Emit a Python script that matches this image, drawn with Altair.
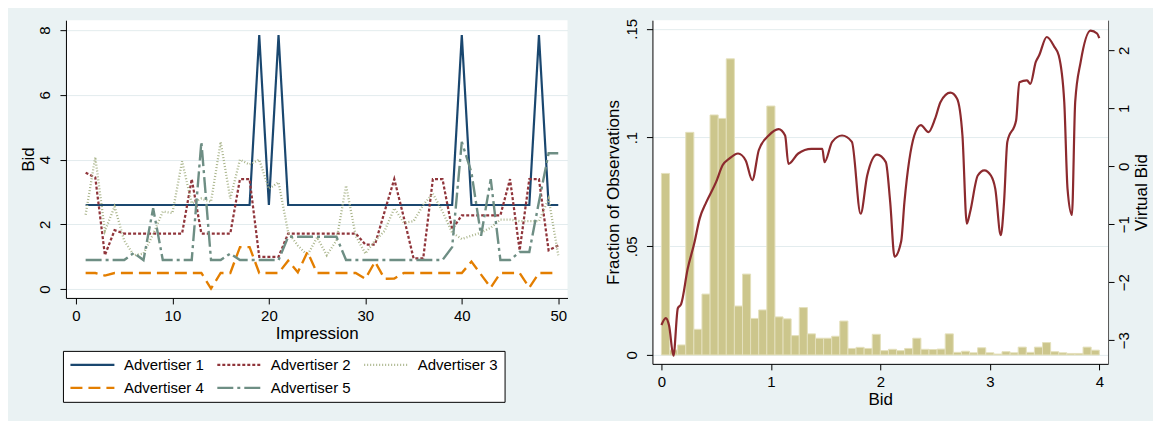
import altair as alt
import pandas as pd

FONT = "Liberation Sans"

# ---------------- Left panel: bids by impression ----------------
impression = list(range(1, 51))
series_names = ["Advertiser 1", "Advertiser 2", "Advertiser 3", "Advertiser 4", "Advertiser 5"]

adv1 = ([2.6] * 18 + [7.85, 2.6, 7.85] + [2.6] * 18 + [7.85] + [2.6] * 7 + [7.85] + [2.6, 2.6])
adv2 = [3.6, 3.45, 1.05, 1.82, 1.72, 1.72, 1.72, 1.72, 1.72, 1.72,
        1.72, 3.4, 1.72, 1.72, 1.72, 1.72, 3.4, 3.4, 1.0, 1.0,
        1.0, 1.72, 1.72, 1.72, 1.72, 1.72, 1.72, 1.72, 1.72, 1.38,
        1.38, 2.4, 3.4, 2.2, 0.95, 0.95, 3.4, 3.4, 1.85, 2.28,
        2.28, 2.28, 2.28, 2.28, 3.4, 1.2, 3.4, 3.4, 1.2, 1.35]
adv3 = [2.3, 4.08, 1.8, 2.55, 1.5, 1.05, 1.1, 1.7, 2.4, 2.35,
        3.95, 2.65, 2.8, 2.7, 4.55, 2.8, 4.0, 3.85, 4.0, 3.1,
        3.3, 1.75, 1.35, 1.05, 1.6, 1.05, 1.5, 3.2, 1.65, 1.1,
        1.5, 1.8, 2.5, 2.05, 2.1, 2.6, 2.95, 2.4, 1.75, 1.55,
        1.65, 1.75, 1.9, 2.15, 2.15, 2.1, 2.1, 2.1, 2.8, 1.05]
adv4 = [0.5, 0.5, 0.42, 0.5, 0.5, 0.5, 0.5, 0.5, 0.5, 0.5,
        0.5, 0.5, 0.5, 0.02, 0.5, 0.5, 1.3, 1.3, 0.5, 0.5,
        0.5, 0.88, 0.52, 1.15, 0.5, 0.5, 0.5, 0.5, 0.5, 0.32,
        0.85, 0.32, 0.33, 0.5, 0.5, 0.5, 0.5, 0.5, 0.5, 0.5,
        0.85, 0.45, 0.05, 0.5, 0.5, 0.5, 0.05, 0.5, 0.5, 0.5]
adv5 = [0.9, 0.9, 0.9, 0.9, 0.9, 1.12, 0.9, 2.5, 0.9, 0.9,
        0.9, 0.9, 4.55, 0.9, 0.9, 1.1, 0.9, 0.9, 0.9, 0.9,
        0.9, 1.62, 1.62, 1.62, 1.62, 1.62, 1.62, 0.9, 0.9, 0.9,
        0.9, 0.9, 0.9, 0.9, 0.9, 0.9, 0.9, 0.9, 1.3, 4.55,
        3.6, 1.65, 3.4, 0.9, 0.9, 1.15, 1.15, 2.7, 4.2, 4.2]

series_colors = ["#1A476F", "#90353B", "#A9B48A", "#E37E00", "#6E8E84"]
series_dashes = [[1, 0], [3, 2], [1, 2], [12, 6], [16, 4, 3, 4]]
series_widths = [2.2, 2.4, 1.3, 2.0, 2.0]

rows = []
for name, vals in zip(series_names, [adv1, adv2, adv3, adv4, adv5]):
    for x, v in zip(impression, vals):
        rows.append({"Impression": x, "Bid": v, "series": name})
df_left = pd.DataFrame(rows)

legend_spec = alt.Legend(
    title=None, orient="none", legendX=-3, legendY=331, direction="horizontal",
    columns=3, symbolType="stroke", symbolSize=1936, symbolStrokeWidth=2,
    labelFont=FONT, labelFontSize=15, labelColor="black", labelOffset=8,
    columnPadding=11, rowPadding=7, padding=6, strokeColor="black",
    fillColor="white", clipHeight=16, symbolLimit=0,
)

left = alt.Chart(df_left).mark_line(clip=True).encode(
    x=alt.X("Impression:Q",
            scale=alt.Scale(domain=[-1.04, 50.96], nice=False, zero=False),
            axis=alt.Axis(values=[0, 10, 20, 30, 40, 50], title="Impression",
                          grid=False, labelPadding=5, titlePadding=2)),
    y=alt.Y("Bid:Q",
            scale=alt.Scale(domain=[-0.27, 8.31], nice=False, zero=False),
            axis=alt.Axis(values=[0, 2, 4, 6, 8], title="Bid", labelAngle=270,
                          grid=True, labelPadding=7, titlePadding=0)),
    color=alt.Color("series:N", scale=alt.Scale(domain=series_names, range=series_colors),
                    legend=legend_spec),
    strokeDash=alt.StrokeDash("series:N", scale=alt.Scale(domain=series_names, range=series_dashes),
                              legend=legend_spec),
    strokeWidth=alt.StrokeWidth("series:N", scale=alt.Scale(domain=series_names, range=series_widths),
                                legend=None),
).properties(width=502, height=278)

# ---------------- Right panel: histogram + virtual bid ----------------
bin_width = 4 / 54
fraction = [0.0835, 0.0023, 0.0046, 0.1024, 0.0118, 0.0280, 0.1104, 0.1088, 0.1362, 0.0225,
            0.0372, 0.0168, 0.0207, 0.1145, 0.0175, 0.0166, 0.0089, 0.0218, 0.0097, 0.0077,
            0.0077, 0.0086, 0.0156, 0.0030, 0.0035, 0.0030, 0.0095, 0.0020, 0.0026, 0.0020,
            0.0030, 0.0077, 0.0026, 0.0025, 0.0027, 0.0097, 0.0012, 0.0017, 0.0010, 0.0033,
            0.0010, 0.0004, 0.0015, 0.0010, 0.0036, 0.0012, 0.0036, 0.0057, 0.0015, 0.0010,
            0.0007, 0.0007, 0.0036, 0.0022]
bin_start = [round(i * bin_width, 5) for i in range(len(fraction))]
bin_end = [round((i + 1) * bin_width, 5) for i in range(len(fraction))]
df_hist = pd.DataFrame({"Bid": bin_start, "BidEnd": bin_end, "fraction": fraction,
                        "base": [0.0] * len(fraction)})

vb_bid = [0.00, 0.04, 0.07, 0.11, 0.15, 0.18, 0.24, 0.30, 0.35, 0.41,
          0.50, 0.56, 0.62, 0.70, 0.77, 0.83, 0.89, 0.98, 1.07, 1.13,
          1.16, 1.25, 1.37, 1.47, 1.49, 1.56, 1.65, 1.74, 1.82, 1.88,
          1.97, 2.05, 2.09, 2.13, 2.19, 2.22, 2.31, 2.37, 2.44, 2.50,
          2.55, 2.64, 2.70, 2.75, 2.79, 2.82, 2.89, 2.95, 3.01, 3.05,
          3.10, 3.13, 3.16, 3.24, 3.27, 3.34, 3.37, 3.42, 3.45, 3.52,
          3.59, 3.63, 3.68, 3.71, 3.75, 3.78, 3.83, 3.92, 3.98, 4.00]
vb_value = [-2.74, -2.62, -2.75, -3.27, -2.45, -2.38, -1.77, -1.33, -0.90, -0.62,
            -0.27, 0.02, 0.13, 0.22, 0.10, -0.24, 0.28, 0.53, 0.64, 0.53,
            0.04, 0.22, 0.30, 0.30, 0.07, 0.42, 0.53, 0.42, -0.82, -0.16,
            0.20, 0.07, -0.62, -1.56, -1.30, -0.62, 0.53, 0.71, 0.59, 0.82,
            1.11, 1.27, 1.17, 0.53, -0.99, -0.79, -0.16, -0.07, -0.16, -0.39,
            -1.19, -0.62, 0.42, 0.79, 1.45, 1.48, 1.42, 1.80, 1.91, 2.23,
            2.06, 1.91, 1.11, -0.39, -0.84, 1.11, 1.80, 2.34, 2.29, 2.21]
df_vb = pd.DataFrame({"Bid": vb_bid, "VirtualBid": vb_value})

x_right = alt.X("Bid:Q", scale=alt.Scale(domain=[-0.082, 4.08], nice=False, zero=False),
                axis=alt.Axis(values=[0, 1, 2, 3, 4], title="Bid", format="d", grid=False,
                              labelPadding=5, titlePadding=2))

bars = alt.Chart(df_hist).mark_bar(color="#CCC68C", stroke="#E4E0BC", strokeWidth=1).encode(
    x=x_right,
    x2="BidEnd:Q",
    y=alt.Y("fraction:Q",
            scale=alt.Scale(domain=[-0.0041, 0.154], nice=False, zero=False),
            axis=alt.Axis(values=[0, 0.05, 0.1, 0.15], title="Fraction of Observations",
                          labelExpr="replace(format(datum.value, '.2~f'), /^0\\./, '.')",
                          labelAngle=270, grid=True, labelPadding=7, titlePadding=2)),
    y2="base:Q",
)

vline = alt.Chart(df_vb).mark_line(color="#8C2A2E", strokeWidth=2.2, interpolate="monotone").encode(
    x=x_right,
    y=alt.Y("VirtualBid:Q",
            scale=alt.Scale(domain=[-3.41, 2.52], nice=False, zero=False),
            axis=alt.Axis(orient="right", values=[-3, -2, -1, 0, 1, 2], title="Virtual Bid",
                          labelAngle=270, labelBaseline="top", labelAlign="center",
                          titleAngle=270, grid=False, labelPadding=2,
                          titleX=33, titleY=172, titleAlign="center", titleBaseline="middle",
                          domainColor="#555555")),
)

right = alt.layer(bars, vline).resolve_scale(y="independent").properties(width=456, height=344)

chart = alt.hconcat(left, right, spacing=36).properties(
    background="#EAF2F3",
    padding={"left": 12, "top": 10, "right": 4, "bottom": 20},
).configure_view(
    fill="white", stroke=None
).configure_axis(
    labelFont=FONT, titleFont=FONT, labelFontSize=15, titleFontSize=17,
    labelColor="black", titleColor="black", titleFontWeight="normal",
    domainColor="black", tickColor="black", tickSize=6, gridColor="#E3ECEE",
)

chart.save("out.html", embed_options={"renderer": "svg", "actions": False})
